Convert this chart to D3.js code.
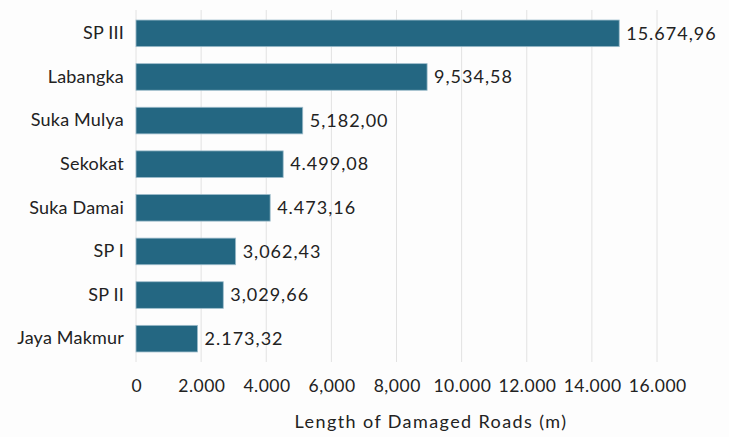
<!DOCTYPE html>
<html>
<head>
<meta charset="utf-8">
<script src="https://cdn.jsdelivr.net/npm/d3@7"></script>
<style>
  body { margin: 0; background: #fdfdfd; }
  text { font-family: Lato, "Open Sans", sans-serif; fill: #222; }
</style>
</head>
<body>
<div id="chart"></div>
<script>
// data
var villages = ["SP III", "Labangka", "Suka Mulya", "Sekokat", "Suka Damai", "SP I", "SP II", "Jaya Makmur"];
// bar lengths as drawn (m)
var barLengths = [14840, 8940, 5120, 4520, 4120, 3060, 2680, 1890];
// value labels as printed next to each bar
var valueLabels = ["15.674,96", "9,534,58", "5,182,00", "4.499,08", "4.473,16", "3,062,43", "3,029,66", "2.173,32"];
var tickValues = [0, 2000, 4000, 6000, 8000, 10000, 12000, 14000, 16000];
var tickLabels = ["0", "2.000", "4.000", "6,000", "8,000", "10.000", "12.000", "14.000", "16.000"];

var width = 729, height = 437;

var svg = d3.select("#chart")
  .append("svg")
    .attr("width", width)
    .attr("height", height);

// scales
var x = d3.scaleLinear()
  .domain([0, 16000])
  .range([136, 657]);

var y = d3.scaleBand()
  .domain(villages)
  .range([10, 362])
  .paddingInner(0.39)
  .paddingOuter(0.23);

// grid lines
svg.append("g")
  .selectAll("line")
  .data(tickValues)
  .enter()
  .append("line")
    .attr("x1", function(d) { return x(d); })
    .attr("x2", function(d) { return x(d); })
    .attr("y1", 10)
    .attr("y2", 362)
    .style("stroke", "#e2e2e2")
    .style("stroke-width", 1);

// bars
svg.append("g")
  .selectAll("rect")
  .data(villages)
  .enter()
  .append("rect")
    .attr("x", x(0))
    .attr("y", function(d) { return y(d); })
    .attr("width", function(d, i) { return x(barLengths[i]) - x(0); })
    .attr("height", y.bandwidth())
    .style("fill", "#246782")
    .style("stroke", "#9dbccb")
    .style("stroke-width", 0.8);

// value labels
svg.append("g")
  .selectAll("text")
  .data(villages)
  .enter()
  .append("text")
    .attr("x", function(d, i) { return x(barLengths[i]) + 7; })
    .attr("y", function(d) { return y(d) + y.bandwidth() / 2; })
    .attr("dy", "0.35em")
    .style("font-size", "18px")
    .style("letter-spacing", "1px")
    .text(function(d, i) { return valueLabels[i]; });

// category axis (labels only)
var yAxis = svg.append("g")
  .attr("transform", "translate(" + x(0) + ",0)")
  .call(d3.axisLeft(y).tickSize(0).tickPadding(12));
yAxis.select(".domain").remove();
yAxis.selectAll("text")
  .style("font-size", "18px")
  .style("letter-spacing", "0.2px")
  .style("fill", "#222")
  .style("font-family", "Lato, sans-serif");

// value axis
var xAxis = svg.append("g")
  .attr("transform", "translate(0,362)")
  .call(d3.axisBottom(x)
    .tickValues(tickValues)
    .tickSize(0)
    .tickPadding(18)
    .tickFormat(function(d, i) { return tickLabels[i]; }));
xAxis.select(".domain").remove();
xAxis.selectAll("text")
  .attr("dx", "0.25px")
  .style("font-size", "17.5px")
  .style("letter-spacing", "0.5px")
  .style("fill", "#222")
  .style("font-family", "Lato, sans-serif");

// axis title
svg.append("text")
  .attr("x", 431)
  .attr("y", 428)
  .attr("text-anchor", "middle")
  .style("font-size", "18px")
  .style("letter-spacing", "1.4px")
  .text("Length of Damaged Roads (m)");
</script>
</body>
</html>
